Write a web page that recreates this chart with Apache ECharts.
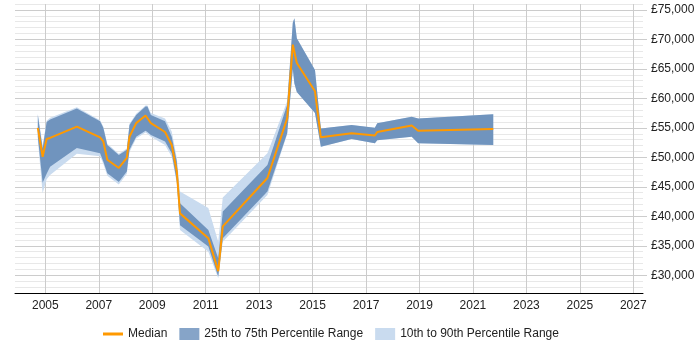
<!DOCTYPE html>
<html>
<head>
<meta charset="utf-8">
<title>Salary percentiles</title>
<script src="https://cdn.jsdelivr.net/npm/echarts@6/dist/echarts.min.js"></script>
<style>
  html, body { margin: 0; padding: 0; background: #fff; }
  #chart { width: 700px; height: 350px; }
</style>
</head>
<body>
<div id="chart"></div>
<script>
// data (year as decimal)
const years = [2004.72, 2004.90, 2005.05, 2005.18, 2006.18, 2007.05, 2007.17, 2007.32, 2007.75, 2008.05, 2008.15, 2008.40, 2008.75, 2008.82, 2008.95, 2009.48, 2009.73, 2009.92, 2010.04, 2011.10, 2011.47, 2011.64, 2013.31, 2014.05, 2014.26, 2014.32, 2014.41, 2015.09, 2015.31, 2016.46, 2017.33, 2017.42, 2018.71, 2018.95, 2021.76]
const p10 = [53000, 43900, 46300, 47000, 50600, 50200, 48900, 46900, 45400, 47200, 50900, 53200, 54200, 54000, 53500, 52100, 50100, 45600, 37700, 34000, 29500, 35700, 43600, 53900, 65000, 62500, 61100, 57500, 51800, 53100, 52400, 52900, 53500, 52400, 52100]
const p25 = [53500, 45700, 47200, 48400, 51600, 50700, 49300, 47300, 45800, 47600, 51300, 53500, 54500, 54300, 53800, 52700, 50700, 45900, 38500, 34900, 29800, 36300, 44200, 54100, 65000, 62500, 61100, 57500, 51800, 53100, 52400, 52900, 53500, 52400, 52100]
const median = [55000, 50100, 53100, 53300, 55200, 53400, 52700, 49600, 48200, 49900, 53500, 55800, 57100, 57200, 55800, 54300, 52100, 47600, 40500, 36300, 30700, 38300, 46500, 56600, 69100, 69200, 66000, 61200, 53400, 54100, 53700, 54300, 55400, 54500, 54800]
const p75 = [57200, 51500, 56000, 56400, 58300, 56100, 55000, 52100, 50400, 51300, 55500, 57200, 58600, 58600, 57200, 56100, 53500, 49300, 42200, 37700, 32900, 40800, 48700, 58900, 72800, 73600, 70200, 64800, 54900, 55500, 55000, 55800, 56900, 56600, 57300]
const p90 = [57400, 52000, 56200, 56700, 58500, 56300, 55200, 52300, 50600, 51500, 55700, 57400, 58800, 58800, 57500, 56600, 54400, 49900, 44200, 41400, 35700, 43200, 50700, 59500, 72800, 73600, 70200, 64800, 54900, 55500, 55000, 55800, 56900, 56600, 57300]

const xTicks = [2005, 2007, 2009, 2011, 2013, 2015, 2017, 2019, 2021, 2023, 2025, 2027]
const yTicks = [30000, 35000, 40000, 45000, 50000, 55000, 60000, 65000, 70000, 75000]

const medianColor = '#ff9900'
const innerColor = '#7094be'
const outerColor = '#c9dbef'
const font = 'Liberation Sans, Arial, sans-serif'

// one filled polygon between a low and a high series, placed with api.coord
function band(lo, hi, color) {
  return {
    type: 'custom',
    xAxisIndex: 0,
    yAxisIndex: 0,
    data: years.map((x, i) => [x, lo[i], hi[i]]),
    encode: { x: 0, y: [1, 2] },
    silent: true,
    renderItem: function (params, api) {
      if (params.dataIndex !== 0) return null
      const top = years.map((x, i) => api.coord([x, hi[i]]))
      const bottom = years.map((x, i) => api.coord([x, lo[i]])).reverse()
      return {
        type: 'polygon',
        shape: { points: top.concat(bottom) },
        style: { fill: color }
      }
    }
  }
}

const chart = echarts.init(document.getElementById('chart'))

chart.setOption({
  animation: false,
  grid: { left: 15, right: 57, top: 4, bottom: 57 },
  legend: {
    bottom: 5,
    left: 98,
    itemGap: 12,
    itemWidth: 20,
    itemHeight: 12,
    textStyle: { fontFamily: font, fontSize: 12, color: '#222' },
    data: [
      { name: 'Median', icon: 'path://M0,0L20,0L20,3L0,3Z', itemStyle: { color: medianColor } },
      { name: '25th to 75th Percentile Range', icon: 'rect', itemStyle: { color: '#86a4c8' } },
      { name: '10th to 90th Percentile Range', icon: 'rect', itemStyle: { color: outerColor } }
    ]
  },
  xAxis: {
    type: 'value',
    min: 2003.866,
    max: 2027.363,
    axisLine: { show: true, onZero: false, lineStyle: { color: '#000', width: 1 } },
    axisTick: { show: false, customValues: xTicks },
    axisLabel: {
      customValues: xTicks,
      margin: 7,
      color: '#222',
      fontFamily: font,
      fontSize: 12,
      formatter: (v) => String(v)
    },
    splitLine: { show: true, lineStyle: { color: '#cccccc', width: 1 } }
  },
  yAxis: [
    {
      // minor grid every 1000
      type: 'value',
      position: 'right',
      min: 27000,
      max: 76000,
      interval: 1000,
      axisLine: { show: false },
      axisTick: { show: false },
      axisLabel: { show: false },
      splitLine: { show: true, lineStyle: { color: '#e8e8e8', width: 1 } }
    },
    {
      // major grid + labels every 5000
      type: 'value',
      position: 'right',
      min: 27000,
      max: 76000,
      axisLine: { show: false },
      axisTick: { show: true, length: 4, customValues: yTicks, lineStyle: { color: '#cccccc' } },
      axisLabel: {
        customValues: yTicks,
        margin: 8,
        color: '#222',
        fontFamily: font,
        fontSize: 12,
        formatter: (v) => '£' + v.toLocaleString('en-GB')
      },
      splitLine: { show: true, lineStyle: { color: '#cccccc', width: 1 } }
    }
  ],
  series: [
    Object.assign(band(p10, p90, outerColor), { name: '10th to 90th Percentile Range', color: outerColor }),
    Object.assign(band(p25, p75, innerColor), { name: '25th to 75th Percentile Range', color: innerColor }),
    {
      name: 'Median',
      type: 'line',
      data: years.map((x, i) => [x, median[i]]),
      symbol: 'none',
      color: medianColor,
      lineStyle: { color: medianColor, width: 2 },
      z: 5
    }
  ]
})
</script>
</body>
</html>
